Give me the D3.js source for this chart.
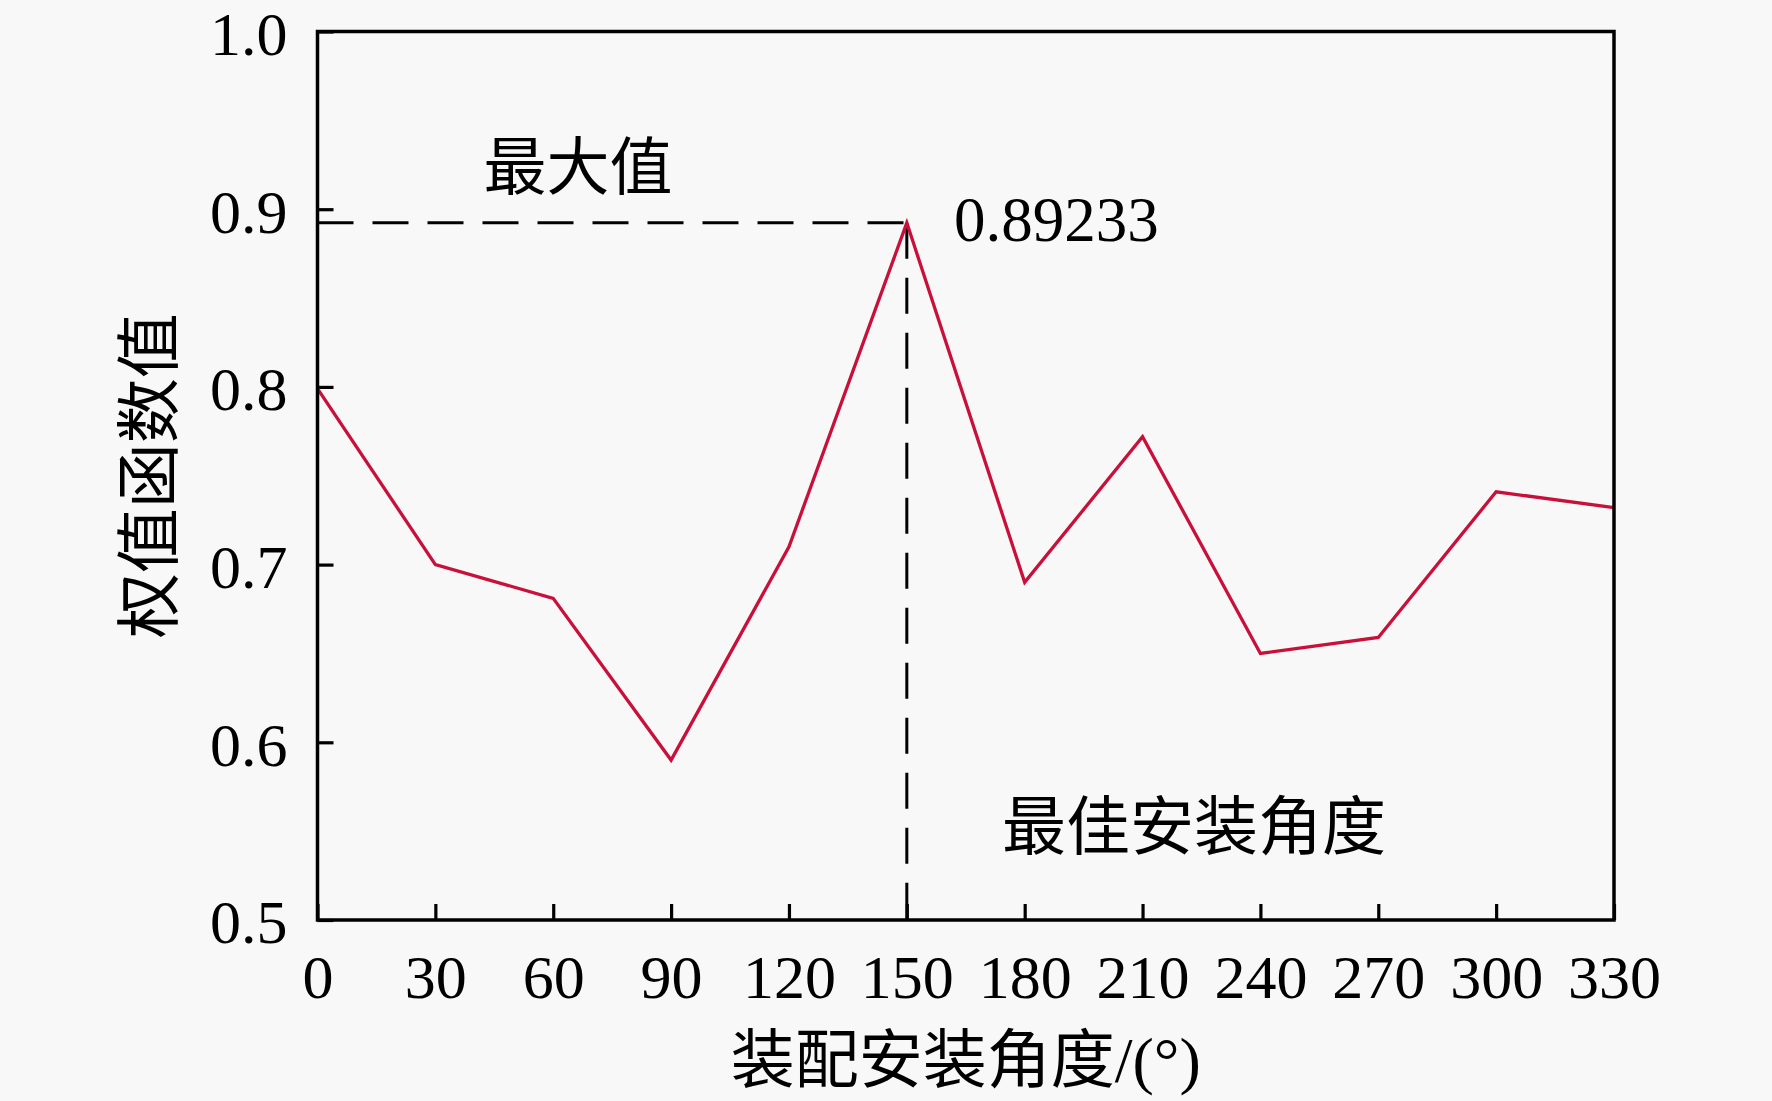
<!DOCTYPE html>
<html>
<head>
<meta charset="utf-8">
<script src="https://cdn.jsdelivr.net/npm/d3@7"></script>
<style>
  html, body { margin: 0; padding: 0; background: #f8f8f8; }
  svg { display: block; }
</style>
</head>
<body>
<svg id="chart" width="1772" height="1101"></svg>
<script>
// ---- data ----
const angles = [0, 30, 60, 90, 120, 150, 180, 210, 240, 270, 300, 330];
const weightValues = [0.799, 0.700, 0.681, 0.590, 0.710, 0.89233, 0.690, 0.772, 0.650, 0.659, 0.741, 0.732];
const xTicks = [0, 30, 60, 90, 120, 150, 180, 210, 240, 270, 300, 330];
const yTicks = [0.5, 0.6, 0.7, 0.8, 0.9, 1.0];
const xTitle = "装配安装角度/(°)";
const yTitle = "权值函数值";
const maxLabel = "最大值";
const bestLabel = "最佳安装角度";
const maxValueText = "0.89233";
const bestAngle = 150;
const maxValue = 0.89233;

// ---- layout ----
const svg = d3.select("#chart");
const plotLeft = 317.5, plotRight = 1614, plotTop = 31.5, plotBottom = 920;
const serif = "'Liberation Serif', 'Times New Roman', 'Noto Sans CJK SC', serif";
const cjk = "'Noto Sans CJK SC', 'Liberation Serif', sans-serif";

const x = d3.scaleLinear().domain([0, 330]).range([plotLeft, plotRight]);
const y = d3.scaleLinear().domain([0.5, 1.0]).range([plotBottom, plotTop]);

// axes
const xAxis = d3.axisBottom(x).tickValues(xTicks).tickSize(-16).tickPadding(34).tickFormat(d3.format("d"));
const yAxis = d3.axisLeft(y).tickValues(yTicks).tickSize(-16).tickPadding(30).tickFormat(d3.format(".1f"));

const gx = svg.append("g").attr("transform", `translate(0,${plotBottom})`).call(xAxis);
const gy = svg.append("g").attr("transform", `translate(${plotLeft},0)`).call(yAxis);
[gx, gy].forEach(g => {
  g.select(".domain").remove();
  g.selectAll(".tick line").attr("stroke", "#000").attr("stroke-width", 3.2);
  g.selectAll(".tick text").attr("fill", "#000").style("font-family", serif).style("font-size", "62px");
});
gy.selectAll(".tick text").attr("dy", "0.37em");

// dashed guide lines
svg.append("line")
  .attr("x1", plotLeft).attr("x2", x(bestAngle))
  .attr("y1", y(maxValue)).attr("y2", y(maxValue))
  .attr("stroke", "#000").attr("stroke-width", 3).attr("stroke-dasharray", "36,19");
svg.append("line")
  .attr("x1", x(bestAngle)).attr("x2", x(bestAngle))
  .attr("y1", y(maxValue)).attr("y2", plotBottom)
  .attr("stroke", "#000").attr("stroke-width", 3).attr("stroke-dasharray", "36,19");

// data line
const line = d3.line().x((d, i) => x(angles[i])).y(d => y(d));
svg.append("path")
  .datum(weightValues)
  .attr("d", line)
  .attr("fill", "none")
  .attr("stroke", "#c8103a")
  .attr("stroke-width", 3.3)
  .attr("stroke-linejoin", "miter");

// frame
svg.append("rect")
  .attr("x", plotLeft).attr("y", plotTop)
  .attr("width", plotRight - plotLeft).attr("height", plotBottom - plotTop)
  .attr("fill", "none").attr("stroke", "#000").attr("stroke-width", 3.5);

// annotations
svg.append("text").text(maxLabel)
  .attr("x", 578).attr("y", 189).attr("text-anchor", "middle")
  .style("font-family", cjk).style("font-size", "63px").attr("fill", "#000");
svg.append("text").text(maxValueText)
  .attr("x", 954).attr("y", 241)
  .style("font-family", serif).style("font-size", "63px").attr("fill", "#000");
svg.append("text").text(bestLabel)
  .attr("x", 1194).attr("y", 849).attr("text-anchor", "middle")
  .style("font-family", cjk).style("font-size", "64px").attr("fill", "#000");

// axis titles
svg.append("text").text(xTitle)
  .attr("x", (plotLeft + plotRight) / 2).attr("y", 1082).attr("text-anchor", "middle")
  .style("font-family", serif).style("font-size", "64px").attr("fill", "#000");
svg.append("text").text(yTitle)
  .attr("transform", `translate(144,${(plotTop + plotBottom) / 2}) rotate(-90)`)
  .attr("text-anchor", "middle").attr("dominant-baseline", "central")
  .style("font-family", cjk).style("font-size", "65px").attr("fill", "#000");
</script>
</body>
</html>
